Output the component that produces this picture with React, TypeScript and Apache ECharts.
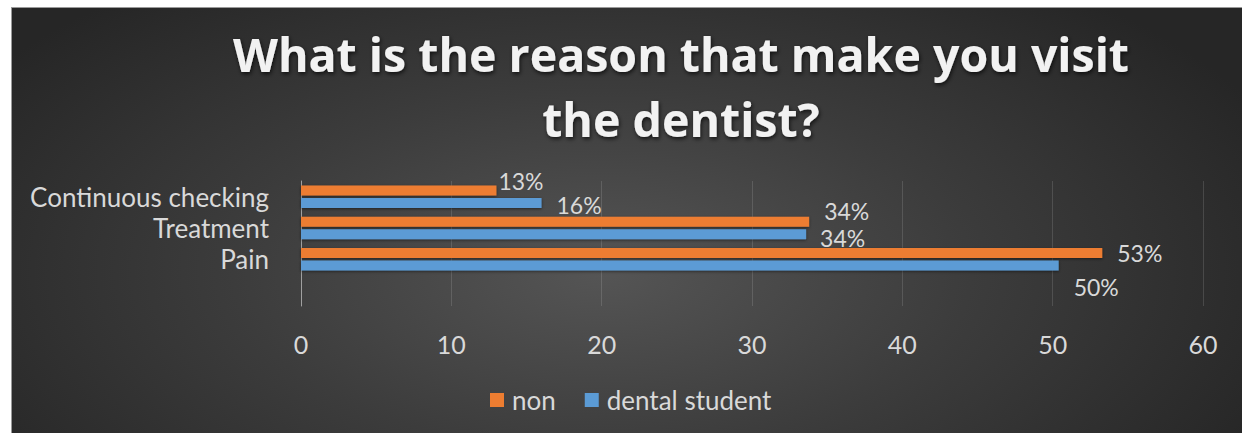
import React, { useEffect, useRef } from 'react';
import * as echarts from 'echarts';

// ---- data ----
const categories = ['', 'Pain', 'Treatment', 'Continuous checking'];
const nonValues: (number | null)[] = [null, 53.3, 33.8, 13.0];
const dentalValues: (number | null)[] = [null, 50.4, 33.6, 16.0];
const seriesNames = ['non', 'dental student'];
const xMin = 0;
const xMax = 60;
const xInterval = 10;
const titleLines = ['What is the reason that make you visit', 'the dentist?'];

// ---- label placement (style only) ----
const nonLabelOffsets = [[0, 0], [10, 0], [10, -11], [-3, -9]];
const dentalLabelOffsets = [[0, 0], [10, 22], [9, 4], [10, 2]];

const FONT = 'Lato, "Noto Sans", sans-serif';
const TITLE_FONT = '"Open Sans", Lato, sans-serif';
const TEXT = '#d9d9d9';

export default function App() {
  const ref = useRef<HTMLDivElement>(null);
  useEffect(() => {
    if (!ref.current) return;
    const chart = echarts.init(ref.current, undefined, { renderer: 'svg' });
    const mkData = (vals: (number | null)[], offs: number[][]) =>
      vals.map((v, i) => ({ value: v, label: { offset: offs[i] } }));
    const barStyle = (c: string) => ({
      color: c,
      shadowColor: 'rgba(0,0,0,0.5)',
      shadowBlur: 3,
      shadowOffsetY: 1,
    });
    const label = {
      show: true,
      position: 'right',
      distance: 5,
      color: TEXT,
      fontFamily: FONT,
      fontSize: 23,
      lineHeight: 23,
      formatter: (p: any) => (p.value == null ? '' : Math.round(p.value) + '%'),
    };
    chart.setOption({
      animation: false,
      backgroundColor: 'transparent',
      textStyle: { fontFamily: FONT },
      graphic: [
        {
          type: 'text',
          x: 669,
          y: 13,
          style: {
            text: titleLines.join('\n'),
            textAlign: 'center',
            align: 'center',
            textVerticalAlign: 'top',
            verticalAlign: 'top',
            font: `bold 46.5px ${TITLE_FONT}`,
            lineHeight: 65,
            fill: '#f2f2f2',
            textShadowColor: 'rgba(0,0,0,0.7)',
            textShadowBlur: 4,
            textShadowOffsetX: 1,
            textShadowOffsetY: 2,
          },
        },
      ],
      legend: {
        data: seriesNames,
        left: 478,
        top: 379,
        padding: 0,
        itemWidth: 14,
        itemHeight: 14,
        itemGap: 29,
        icon: 'rect',
        textStyle: { color: TEXT, fontSize: 26, fontFamily: FONT, padding: [0, 0, 0, 3] },
      },
      grid: { left: 289, right: 39, top: 173, bottom: 127, containLabel: false },
      xAxis: {
        type: 'value',
        min: xMin,
        max: xMax,
        interval: xInterval,
        axisLine: { show: false },
        axisTick: { show: false },
        splitLine: { show: true, lineStyle: { color: 'rgba(255,255,255,0.13)', width: 1 } },
        axisLabel: { color: TEXT, fontSize: 25, fontFamily: FONT, margin: 25 },
      },
      yAxis: {
        type: 'category',
        data: categories,
        axisLine: { show: true, lineStyle: { color: '#a0a0a0', width: 1 } },
        axisTick: { show: false },
        axisLabel: {
          color: TEXT,
          fontSize: 26,
          lineHeight: 26,
          fontFamily: FONT,
          margin: 32,
          interval: 0,
        },
      },
      series: [
        {
          name: seriesNames[0],
          type: 'bar',
          data: mkData(nonValues, nonLabelOffsets),
          barWidth: 10,
          barGap: '25%',
          itemStyle: barStyle('#ED7D31'),
          label,
        },
        {
          name: seriesNames[1],
          type: 'bar',
          data: mkData(dentalValues, dentalLabelOffsets),
          barWidth: 10,
          barGap: '25%',
          itemStyle: barStyle('#5B9BD5'),
          label,
        },
      ],
    });
    return () => chart.dispose();
  }, []);
  return (
    <div
      ref={ref}
      style={{
        position: 'absolute',
        left: 11,
        top: 7,
        width: 1231,
        height: 426,
        boxSizing: 'border-box',
        borderTop: '1px solid #9a9a9a',
        borderLeft: '1px solid #9a9a9a',
        background:
          'radial-gradient(ellipse 60% 85% at 48% 62%, #555555 0%, #3c3c3c 50%, #262626 100%)',
      }}
    />
  );
}
